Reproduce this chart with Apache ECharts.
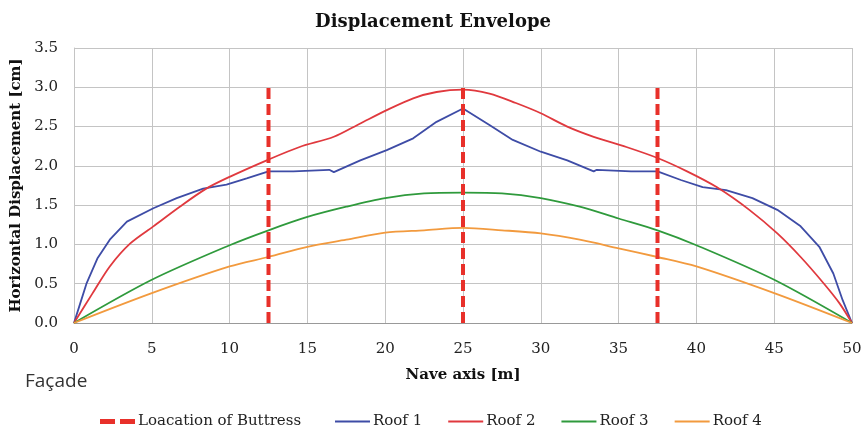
<!DOCTYPE html>
<html>
<head>
<meta charset="utf-8">
<script src="https://cdn.jsdelivr.net/npm/echarts@6/dist/echarts.min.js"></script>
<style>html,body{margin:0;padding:0;background:#fff}#c{width:866px;height:439px}</style>
</head>
<body>
<div id="c"></div>
<script>
const xTicks = [0,5,10,15,20,25,30,35,40,45,50];
const yTicks = [0.0,0.5,1.0,1.5,2.0,2.5,3.0,3.5];
const buttressX = [12.5, 25, 37.5];
const buttressTop = 3.0;
const roof1 = [[0,0],[0.4,0.25],[0.8,0.5],[1.5,0.82],[2.3,1.06],[3.4,1.29],[5.1,1.46],[6.6,1.59],[8.3,1.71],[9.8,1.76],[11.1,1.84],[12.5,1.93],[14.1,1.93],[16.4,1.95],[16.7,1.92],[18.4,2.07],[20.1,2.2],[21.8,2.35],[23.3,2.56],[25,2.73],[26.7,2.52],[28.2,2.33],[30,2.18],[31.7,2.07],[33.4,1.93],[33.6,1.95],[35.8,1.93],[37.5,1.93],[39,1.82],[40.4,1.73],[41.9,1.69],[43.6,1.59],[45.2,1.44],[46.7,1.23],[47.9,0.97],[48.8,0.63],[49.4,0.29],[50,0]];
const roof2 = [[0,0],[1.2,0.38],[2.3,0.72],[3.6,1.01],[5.1,1.23],[6.8,1.48],[8.5,1.71],[10,1.86],[12.5,2.08],[14.5,2.24],[16.7,2.37],[18.4,2.54],[20.1,2.71],[21.8,2.86],[23.3,2.94],[25,2.97],[26.7,2.92],[28.4,2.8],[30,2.67],[31.7,2.5],[33.4,2.37],[35.5,2.24],[37.5,2.1],[39.4,1.93],[41.3,1.73],[43.4,1.44],[45.2,1.14],[46.7,0.84],[48.2,0.5],[49.2,0.25],[50,0]];
const roof3 = [[0,0],[5,0.55],[10,0.99],[12.5,1.18],[15,1.35],[17.5,1.48],[20,1.59],[22.5,1.65],[25,1.66],[27.5,1.65],[30,1.59],[32.5,1.48],[35,1.33],[37.5,1.18],[40,0.99],[45,0.55],[50,0]];
const roof4 = [[0,0],[5,0.38],[10,0.72],[12.5,0.84],[15,0.97],[17.5,1.06],[20,1.15],[22.5,1.18],[25,1.21],[27.5,1.18],[30,1.14],[32.5,1.06],[35,0.95],[37.5,0.84],[40,0.72],[45,0.38],[50,0]];

const serif = '"DejaVu Serif",serif';
const chart = echarts.init(document.getElementById('c'));
const buttressSeries = buttressX.map(x => ({
  name: 'Loacation of Buttress', type: 'line', symbol: 'none', z: 5,
  data: [[x,0],[x,buttressTop]],
  lineStyle: {color: '#e8302a', width: 4, type: [11,5]}, itemStyle: {color: '#e8302a'}
}));
const mk = (name, data, color, smooth) => ({
  name, type: 'line', symbol: 'none', data, smooth,
  lineStyle: {color, width: 1.8}, itemStyle: {color}
});
const legendText = {fontFamily: serif, fontSize: 15, color: '#222', padding: [0,0,0,-2]};
chart.setOption({
  animation: false,
  title: {text: 'Displacement Envelope', left: 'center', top: 8,
    textStyle: {fontFamily: serif, fontWeight: 'bold', fontSize: 18, color: '#111'}},
  grid: {left: 74, right: 14, top: 48, bottom: 116},
  legend: [
    {left: 100, top: 414, padding: 0, itemWidth: 35, itemHeight: 5, textStyle: legendText,
     data: [{name: 'Loacation of Buttress', icon: 'path://M0 0H15V5H0ZM20 0H35V5H20Z'}]},
    {left: 335, top: 414, padding: 0, itemWidth: 35, itemHeight: 2, itemGap: 26, textStyle: legendText,
     data: ['Roof 1','Roof 2','Roof 3','Roof 4'].map(n => ({name: n, icon: 'path://M0 0H35V2H0Z'}))}
  ],
  xAxis: {type: 'value', min: 0, max: 50, interval: 5,
    name: 'Nave axis [m]', nameLocation: 'middle', nameGap: 45,
    nameTextStyle: {fontFamily: serif, fontWeight: 'bold', fontSize: 15, color: '#111'},
    axisLine: {show: true, lineStyle: {color: '#999'}}, axisTick: {show: false},
    axisLabel: {fontFamily: serif, fontSize: 15, color: '#222', margin: 19},
    splitLine: {show: true, lineStyle: {color: '#c4c4c4', width: 1}}},
  yAxis: {type: 'value', min: 0, max: 3.5, interval: 0.5,
    name: 'Horizontal Displacement [cm]', nameLocation: 'middle', nameGap: 46,
    nameTextStyle: {fontFamily: serif, fontWeight: 'bold', fontSize: 15, color: '#111'},
    axisLine: {show: true, lineStyle: {color: '#c4c4c4'}}, axisTick: {show: false},
    axisLabel: {fontFamily: serif, fontSize: 15, color: '#222', margin: 16, formatter: v => v.toFixed(1)},
    splitLine: {show: true, lineStyle: {color: '#c4c4c4', width: 1}}},
  graphic: [{type: 'text', left: 25, top: 372,
    style: {text: 'Façade', font: '19px "Open Sans", sans-serif', fill: '#333'}}],
  series: [
    ...buttressSeries,
    mk('Roof 1', roof1, '#3e4ca6', false),
    mk('Roof 2', roof2, '#e0393e', 0.3),
    mk('Roof 3', roof3, '#2f9a3c', 0.3),
    mk('Roof 4', roof4, '#f29a3e', 0.3)
  ]
});
</script>
</body>
</html>
